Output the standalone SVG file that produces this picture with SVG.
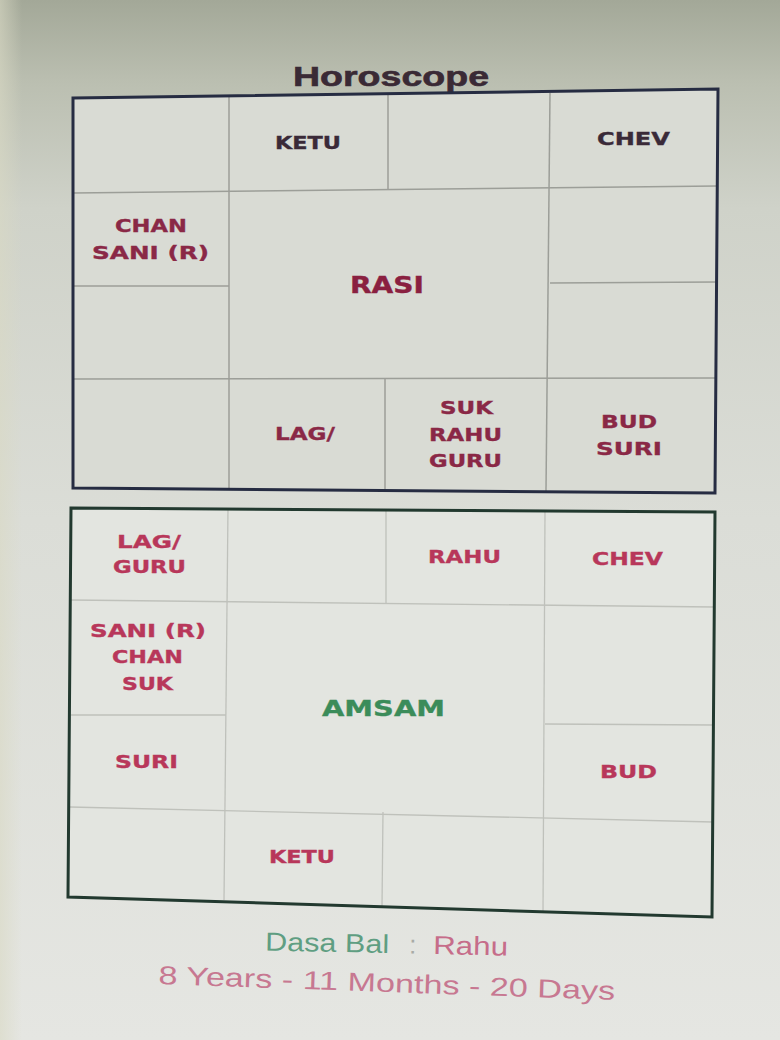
<svg xmlns="http://www.w3.org/2000/svg" width="780" height="1040" viewBox="0 0 780 1040">
<defs>
<linearGradient id="bg" x1="0" y1="0" x2="0" y2="1">
<stop offset="0" stop-color="#a3a898"/>
<stop offset="0.08" stop-color="#bbbfb1"/>
<stop offset="0.2" stop-color="#cfd2c9"/>
<stop offset="0.5" stop-color="#dbddd7"/>
<stop offset="1" stop-color="#e5e6e2"/>
</linearGradient>
<linearGradient id="side" x1="0" y1="0" x2="1" y2="0">
<stop offset="0" stop-color="#d9d9c4" stop-opacity="0.6"/>
<stop offset="1" stop-color="#d9d9c4" stop-opacity="0"/>
</linearGradient>
<style>
.lbl{font-family:"DejaVu Sans","Liberation Sans",sans-serif;font-weight:bold;font-size:18px;stroke-width:0.35px}
.dark{fill:#3a2a38;stroke:#3a2a38}
.mar{fill:#8a2846;stroke:#8a2846}
.cri{fill:#b8375a;stroke:#b8375a}
.grid1{stroke:#9c9e98;stroke-width:1.5;fill:none}
.grid2{stroke:#bfc1bb;stroke-width:1.3;fill:none}
</style>
</defs>
<rect x="0" y="0" width="780" height="1040" fill="url(#bg)"/>
<rect x="0" y="0" width="22" height="1040" fill="url(#side)"/>
<text x="293" y="86" font-family="Liberation Sans, Arial, sans-serif" font-weight="bold" font-size="28" fill="#3a2a35" stroke="#3a2a35" stroke-width="0.6" textLength="196" lengthAdjust="spacingAndGlyphs">Horoscope</text>

<g id="rasi-chart">
<polygon points="73,98 718,89 715,493 73,488" fill="#d9dbd4"/>
<g class="grid1">
<line x1="229" y1="97" x2="229" y2="488"/>
<line x1="388" y1="95" x2="388" y2="190"/>
<line x1="385" y1="379" x2="385" y2="490"/>
<line x1="550" y1="93" x2="546" y2="491"/>
<line x1="73" y1="193" x2="717" y2="186"/>
<line x1="73" y1="286" x2="229" y2="286"/>
<line x1="550" y1="283" x2="716" y2="282"/>
<line x1="73" y1="379" x2="716" y2="378"/>
</g>
<polygon points="73,98 718,89 715,493 73,488" fill="none" stroke="#262c42" stroke-width="3"/>
</g>

<g id="rasi-labels">
<text class="lbl dark" x="275" y="149" textLength="66" lengthAdjust="spacingAndGlyphs">KETU</text>
<text class="lbl dark" x="597" y="145" textLength="73" lengthAdjust="spacingAndGlyphs">CHEV</text>
<text class="lbl mar" x="115" y="232" textLength="72" lengthAdjust="spacingAndGlyphs">CHAN</text>
<text class="lbl mar" x="92" y="259" textLength="117" lengthAdjust="spacingAndGlyphs">SANI (R)</text>
<text x="350" y="293" font-family="DejaVu Sans, sans-serif" font-weight="bold" font-size="23" fill="#8a2040" stroke="#8a2040" stroke-width="0.4" textLength="74" lengthAdjust="spacingAndGlyphs">RASI</text>
<text class="lbl mar" x="275" y="440" textLength="60" lengthAdjust="spacingAndGlyphs">LAG/</text>
<text class="lbl mar" x="440" y="414" textLength="53" lengthAdjust="spacingAndGlyphs">SUK</text>
<text class="lbl mar" x="429" y="441" textLength="73" lengthAdjust="spacingAndGlyphs">RAHU</text>
<text class="lbl mar" x="429" y="467" textLength="73" lengthAdjust="spacingAndGlyphs">GURU</text>
<text class="lbl mar" x="601" y="428" textLength="56" lengthAdjust="spacingAndGlyphs">BUD</text>
<text class="lbl mar" x="596" y="455" textLength="66" lengthAdjust="spacingAndGlyphs">SURI</text>
</g>

<g id="amsam-chart">
<polygon points="71,508 715,512 712,917 68,897" fill="#e3e5e0"/>
<g class="grid2">
<line x1="228" y1="508" x2="224" y2="900"/>
<line x1="386" y1="509" x2="386" y2="603"/>
<line x1="383" y1="812" x2="382" y2="906"/>
<line x1="545" y1="511" x2="543" y2="912"/>
<line x1="71" y1="600" x2="714" y2="607"/>
<line x1="71" y1="715" x2="226" y2="715"/>
<line x1="545" y1="724" x2="713" y2="725"/>
<line x1="70" y1="807" x2="713" y2="822"/>
</g>
<polygon points="71,508 715,512 712,917 68,897" fill="none" stroke="#22392f" stroke-width="3"/>
</g>

<g id="amsam-labels">
<text class="lbl cri" x="117" y="548" textLength="64" lengthAdjust="spacingAndGlyphs">LAG/</text>
<text class="lbl cri" x="113" y="573" textLength="73" lengthAdjust="spacingAndGlyphs">GURU</text>
<text class="lbl cri" x="428" y="563" textLength="73" lengthAdjust="spacingAndGlyphs">RAHU</text>
<text class="lbl cri" x="592" y="565" textLength="71" lengthAdjust="spacingAndGlyphs">CHEV</text>
<text class="lbl cri" x="90" y="637" textLength="116" lengthAdjust="spacingAndGlyphs">SANI (R)</text>
<text class="lbl cri" x="112" y="663" textLength="71" lengthAdjust="spacingAndGlyphs">CHAN</text>
<text class="lbl cri" x="122" y="690" textLength="51" lengthAdjust="spacingAndGlyphs">SUK</text>
<text x="322" y="716" font-family="DejaVu Sans, sans-serif" font-weight="bold" font-size="22" fill="#3b8c5a" stroke="#3b8c5a" stroke-width="0.35" textLength="123" lengthAdjust="spacingAndGlyphs">AMSAM</text>
<text class="lbl cri" x="115" y="768" textLength="63" lengthAdjust="spacingAndGlyphs">SURI</text>
<text class="lbl cri" x="600" y="778" textLength="57" lengthAdjust="spacingAndGlyphs">BUD</text>
<text class="lbl cri" x="269" y="863" textLength="66" lengthAdjust="spacingAndGlyphs">KETU</text>
</g>

<g id="dasa" font-family="Liberation Sans, Arial, sans-serif" font-size="26">
<g transform="rotate(1.2 387 952)">
<text x="265" y="953" fill="#5f9e82" textLength="124" lengthAdjust="spacingAndGlyphs">Dasa Bal</text>
<text x="409" y="953" fill="#a9aba6">:</text>
<text x="433" y="953" fill="#c66d8a" textLength="75" lengthAdjust="spacingAndGlyphs">Rahu</text>
</g>
<text x="158" y="992" fill="#c77891" textLength="457" lengthAdjust="spacingAndGlyphs" transform="rotate(2 387 992)">8 Years - 11 Months - 20 Days</text>
</g>
</svg>
